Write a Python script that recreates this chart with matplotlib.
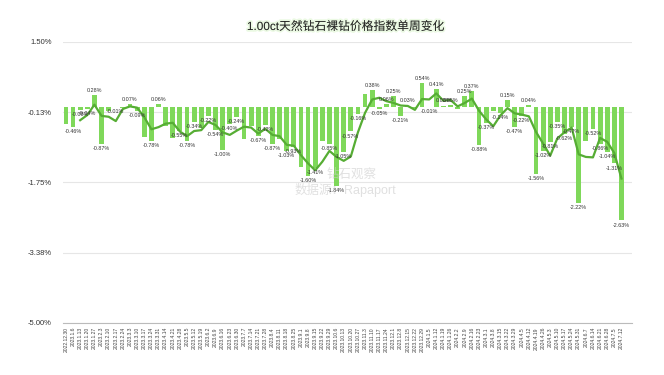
import matplotlib
matplotlib.use("Agg")
import matplotlib.pyplot as plt
import matplotlib.patheffects as pe
import numpy as np

plt.rcParams['font.family'] = ['Liberation Sans', 'Noto Sans CJK SC', 'DejaVu Sans']

dates = [
    "2022.12.30", "2023.1.6", "2023.1.13", "2023.1.20", "2023.1.27", "2023.2.3", "2023.2.10",
    "2023.2.17", "2023.2.24", "2023.3.3", "2023.3.10", "2023.3.17", "2023.3.24", "2023.3.31",
    "2023.4.14", "2023.4.21", "2023.4.28", "2023.5.5", "2023.5.12", "2023.5.19", "2023.6.2",
    "2023.6.9", "2023.6.16", "2023.6.23", "2023.6.30", "2023.7.7", "2023.7.14", "2023.7.21",
    "2023.7.28", "2023.8.4", "2023.8.11", "2023.8.18", "2023.8.25", "2023.9.1", "2023.9.8",
    "2023.9.15", "2023.9.22", "2023.9.29", "2023.10.6", "2023.10.13", "2023.10.20", "2023.10.27",
    "2023.11.3", "2023.11.10", "2023.11.17", "2023.11.24", "2023.12.1", "2023.12.8", "2023.12.15",
    "2023.12.22", "2023.12.29", "2024.1.5", "2024.1.12", "2024.1.19", "2024.1.26", "2024.2.2",
    "2024.2.9", "2024.2.16", "2024.2.23", "2024.3.1", "2024.3.8", "2024.3.15", "2024.3.22",
    "2024.3.29", "2024.4.5", "2024.4.12", "2024.4.19", "2024.4.26", "2024.5.3", "2024.5.10",
    "2024.5.17", "2024.5.24", "2024.5.31", "2024.6.7", "2024.6.14", "2024.6.21", "2024.6.28",
    "2024.7.5", "2024.7.12",
]

weekly_change = [
    -0.40, -0.46, -0.08, -0.04, 0.28, -0.87, -0.10, -0.01, -0.03, 0.07,
    -0.09, -0.69, -0.78, 0.06, -0.45, -0.72, -0.55, -0.78, -0.34, -0.50,
    -0.22, -0.54, -1.00, -0.40, -0.24, -0.75, -0.45, -0.67, -0.42, -0.87,
    -0.75, -1.03, -0.93, -1.40, -1.60, -1.41, -0.80, -0.85, -1.84, -1.05,
    -0.57, -0.16, 0.30, 0.38, -0.05, 0.06, 0.25, -0.21, 0.03, -0.03,
    0.54, -0.01, 0.41, 0.03, 0.05, -0.04, 0.25, 0.37, -0.88, -0.37,
    -0.10, -0.14, 0.15, -0.47, -0.22, 0.04, -1.56, -1.02, -0.81, -0.35,
    -0.62, -0.47, -2.22, -0.78, -0.52, -0.86, -1.04, -1.31, -2.63,
]

# 3-week moving average line
moving_avg = [
    None, None, -0.31, -0.19, 0.05, -0.21, -0.23, -0.33, -0.05, 0.01,
    -0.02, -0.24, -0.52, -0.47, -0.39, -0.37, -0.57, -0.68, -0.56, -0.54,
    -0.35, -0.42, -0.59, -0.65, -0.55, -0.46, -0.48, -0.62, -0.51, -0.65,
    -0.68, -0.88, -0.90, -1.12, -1.31, -1.47, -1.27, -1.02, -1.16, -1.25,
    -1.15, -0.59, -0.14, 0.17, 0.21, 0.13, 0.09, 0.03, 0.02, -0.07,
    0.18, 0.17, 0.31, 0.14, 0.16, 0.01, 0.09, 0.19, -0.09, -0.29,
    -0.45, -0.20, -0.03, -0.15, -0.18, -0.22, -0.58, -0.85, -1.13, -0.73,
    -0.59, -0.48, -1.10, -1.16, -1.17, -0.72, -0.81, -1.07, -1.66,
]

# bars whose value label is not shown in the reference
unlabeled = {0, 6, 8, 11, 14, 15, 19, 25, 26, 30, 33, 36, 42, 49, 55, 60, 73}

y_ticks = [1.5, -0.125, -1.75, -3.375, -5.0]
y_tick_labels = ["1.50%", "-0.13%", "-1.75%", "-3.38%", "-5.00%"]

fig = plt.figure(figsize=(6.64, 3.75), dpi=100)
ax = fig.add_axes([0.095, 0.139, 0.857, 0.749])

x = np.arange(len(weekly_change))
bar_color = '#7fd85a'
line_color = '#56ad34'

ax.bar(x, weekly_change, width=0.68, color=bar_color, zorder=2)
ma = np.array([np.nan if v is None else v for v in moving_avg])
ax.plot(x, ma, color=line_color, lw=1.6, zorder=3)

for xi, v in zip(x, weekly_change):
    if xi in unlabeled:
        continue
    if v >= 0:
        ax.annotate(f"{v:.2f}%", (xi, v), xytext=(0, 1.5), textcoords='offset points',
                    ha='center', va='bottom', fontsize=3.9, color='#333333', zorder=4)
    else:
        ax.annotate(f"{v:.2f}%", (xi, v), xytext=(0, -1.5), textcoords='offset points',
                    ha='center', va='top', fontsize=3.9, color='#333333', zorder=4)

ax.set_ylim(-5.0, 1.5)
ax.set_xlim(-0.4, len(weekly_change) + 0.5)
ax.set_yticks(y_ticks)
ax.set_yticklabels(y_tick_labels, fontsize=5.5, color='#333333')
ax.set_xticks(x)
ax.set_xticklabels(dates, rotation=90, fontsize=3.6, color='#444444')
ax.tick_params(axis='both', length=0, pad=3)
ax.tick_params(axis='y', pad=8)
ax.grid(axis='y', color='#e6e6e6', lw=0.8, zorder=0)
for s in ['top', 'right', 'left']:
    ax.spines[s].set_visible(False)
ax.spines['bottom'].set_color('#bbbbbb')
ax.spines['bottom'].set_linewidth(0.8)

fig.text(0.52, 0.928, "1.00ct天然钻石裸钻价格指数单周变化", ha='center', va='center',
         fontsize=8.5, color='#222222',
         path_effects=[pe.withStroke(linewidth=2.5, foreground='#d8f5c8', alpha=0.5)])

fig.text(0.53, 0.535, "钻石观察", ha='center', va='center', fontsize=9,
         color='#cccccc', alpha=0.6, zorder=5)
fig.text(0.52, 0.493, "数据源：Rapaport", ha='center', va='center', fontsize=9,
         color='#cccccc', alpha=0.6, zorder=5)

fig.savefig("out.png", dpi=100)
